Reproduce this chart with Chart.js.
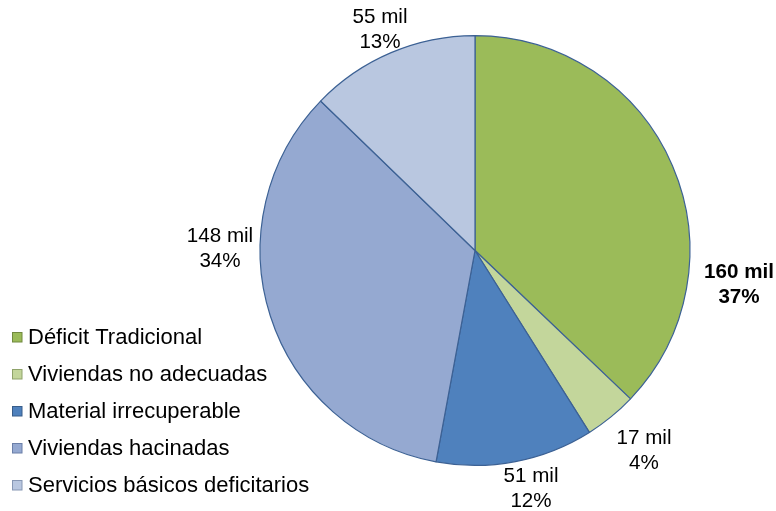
<!DOCTYPE html>
<html>
<head>
<meta charset="utf-8">
<script src="https://cdn.jsdelivr.net/npm/chart.js@4.4.1/dist/chart.umd.min.js"></script>
<style>
  html, body { margin: 0; padding: 0; background: #fff; }
  #wrap { width: 776px; height: 511px; position: relative; }
</style>
</head>
<body>
<div id="wrap"><canvas id="c" width="776" height="511"></canvas></div>
<script>
// Housing deficit components (thousands of dwellings)
const categories = [
  'Déficit Tradicional',
  'Viviendas no adecuadas',
  'Material irrecuperable',
  'Viviendas hacinadas',
  'Servicios básicos deficitarios'
];
const values = [160, 17, 51, 148, 55];

const sliceColors = ['#9BBB59', '#C3D69B', '#4F81BD', '#95A9D1', '#B9C7E0'];
const legendEdge = ['#71893F', '#8FA36A', '#385D8A', '#6B7FA8', '#8797B4'];
const boldLabel = [true, false, false, false, false];
// label block centres, relative to the pie centre
const labelOffset = [[264, 34], [169, 200], [56, 238], [-255, -2], [-95, -221]];

const FONT = '"Liberation Sans", Arial, sans-serif';

const labelPlugin = {
  id: 'sliceLabels',
  afterDatasetsDraw(chart) {
    const ctx = chart.ctx;
    const meta = chart.getDatasetMeta(0);
    const total = values.reduce((a, b) => a + b, 0);
    ctx.save();
    ctx.fillStyle = '#000';
    ctx.textAlign = 'center';
    ctx.textBaseline = 'middle';
    meta.data.forEach((arc, i) => {
      const cx = arc.x + labelOffset[i][0];
      const cy = arc.y + labelOffset[i][1];
      ctx.font = (boldLabel[i] ? 'bold ' : '') + '20.6px ' + FONT;
      const pct = Math.round(values[i] / total * 100);
      ctx.fillText(values[i] + ' mil', cx, cy - 12.5);
      ctx.fillText(pct + '%', cx, cy + 12.5);
    });
    ctx.restore();
  }
};

const legendPlugin = {
  id: 'sideLegend',
  afterDraw(chart) {
    const ctx = chart.ctx;
    ctx.save();
    ctx.font = '22px ' + FONT;
    ctx.textBaseline = 'middle';
    ctx.textAlign = 'left';
    categories.forEach((name, i) => {
      const y = 338 + i * 37;
      ctx.fillStyle = sliceColors[i];
      ctx.fillRect(12.5, y - 5.5, 9.5, 9.5);
      ctx.strokeStyle = legendEdge[i];
      ctx.lineWidth = 1;
      ctx.strokeRect(12.5, y - 5.5, 9.5, 9.5);
      ctx.fillStyle = '#000';
      ctx.fillText(name, 28, y);
    });
    ctx.restore();
  }
};

new Chart(document.getElementById('c'), {
  type: 'pie',
  data: {
    labels: categories,
    datasets: [{
      data: values,
      backgroundColor: sliceColors,
      borderColor: '#3C6194',
      borderWidth: 1.2
    }]
  },
  options: {
    responsive: false,
    animation: false,
    rotation: 0,
    layout: { padding: { left: 259, right: 85, top: 35, bottom: 45 } },
    plugins: {
      legend: { display: false },
      tooltip: { enabled: false }
    }
  },
  plugins: [labelPlugin, legendPlugin]
});
</script>
</body>
</html>
